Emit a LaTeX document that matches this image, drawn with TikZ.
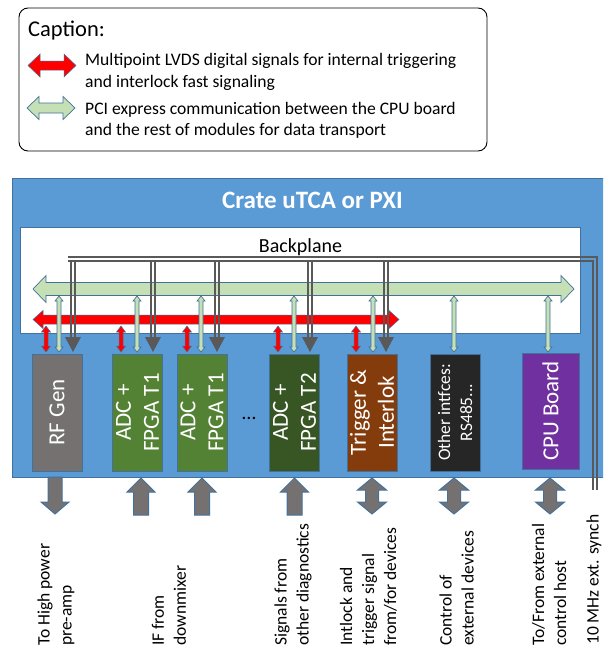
\documentclass[tikz,border=0pt]{standalone}
\usepackage{fontspec}
\setmainfont{Carlito}
\usepackage{xcolor}

\definecolor{crateblue}{HTML}{5B9BD5}
\definecolor{edgeblue}{HTML}{41719C}
\definecolor{pcigreen}{HTML}{C5E0B4}
\definecolor{rfgray}{HTML}{767171}
\definecolor{adcgreen}{HTML}{548235}
\definecolor{adcdark}{HTML}{375623}
\definecolor{trigbrown}{HTML}{843C0C}
\definecolor{ifcblack}{HTML}{262626}
\definecolor{cpupurple}{HTML}{7030A0}
\definecolor{cablegray}{HTML}{595959}

% fat arrows: style, position, tips, shaft half width, head half width, head length
\newcommand{\busH}[7]{%
  \draw[#1] (#2,#4) -- ({#2+#7},{#4-#6}) -- ({#2+#7},{#4-#5}) -- ({#3-#7},{#4-#5})
    -- ({#3-#7},{#4-#6}) -- (#3,#4) -- ({#3-#7},{#4+#6}) -- ({#3-#7},{#4+#5})
    -- ({#2+#7},{#4+#5}) -- ({#2+#7},{#4+#6}) -- cycle;}
\newcommand{\busV}[7]{%
  \draw[#1] (#2,#3) -- ({#2+#6},{#3+#7}) -- ({#2+#5},{#3+#7}) -- ({#2+#5},{#4-#7})
    -- ({#2+#6},{#4-#7}) -- (#2,#4) -- ({#2-#6},{#4-#7}) -- ({#2-#5},{#4-#7})
    -- ({#2-#5},{#3+#7}) -- ({#2-#6},{#3+#7}) -- cycle;}
\newcommand{\arrUp}[7]{%
  \draw[#1] (#2,#3) -- ({#2+#6},{#3+#7}) -- ({#2+#5},{#3+#7}) -- ({#2+#5},#4)
    -- ({#2-#5},#4) -- ({#2-#5},{#3+#7}) -- ({#2-#6},{#3+#7}) -- cycle;}
\newcommand{\arrDown}[7]{%
  \draw[#1] ({#2-#5},#3) -- ({#2+#5},#3) -- ({#2+#5},{#4-#7}) -- ({#2+#6},{#4-#7})
    -- (#2,#4) -- ({#2-#6},{#4-#7}) -- ({#2-#5},{#4-#7}) -- cycle;}

\begin{document}
\begin{tikzpicture}[x=1pt,y=-1pt,
  module/.style={draw=edgeblue,line width=0.8pt,rotate=90,minimum width=117,minimum height=50,
    inner sep=0pt,align=center,text=white,font=\fontsize{23}{28}\selectfont},
  outlabel/.style={rotate=90,anchor=west,align=left,inner sep=0pt,font=\fontsize{17.5}{22}\selectfont},
  cable/.style={draw=cablegray,line width=1.1pt},
  pci/.style={fill=pcigreen,draw=edgeblue,line width=0.7pt},
  lvds/.style={fill=red,draw=edgeblue,line width=0.5pt},
  io/.style={fill=rfgray,draw=edgeblue,line width=1pt},
  txt/.style={inner sep=0pt,anchor=base west,align=left,font=\fontsize{17.6}{21.5}\selectfont}
  ]
\clip (0,0) rectangle (603,648);
% caption
\draw[line width=0.9pt,rounded corners=9] (19,8) rectangle (487,151);
\node[inner sep=0pt,anchor=base west,font=\fontsize{22.5}{27}\selectfont] (cap) at (28,36) {Caption:};
\busH{lvds}{28}{76}{65.5}{4.5}{11.5}{12}
\node[txt] (capLvds) at (85,87.2) {Multipoint LVDS digital signals for internal triggering\\and interlock fast signaling}; % base = last line
\busH{pci}{27}{75}{108}{5}{11.5}{12}
\node[txt] (capPci) at (85,135.5) {PCI express communication between the CPU board\\and the rest of modules for data transport};
% crate and backplane
\draw[fill=crateblue,draw=edgeblue,line width=0.8pt] (12,178) rectangle (620,477);
\node[anchor=base,text=white,inner sep=0pt,font=\bfseries\fontsize{25}{30}\selectfont] (crate) at (312.5,208.3) {Crate uTCA or PXI};
\draw[fill=white,draw=edgeblue,line width=0.6pt] (20,227) rectangle (580,333);
\node[anchor=base,inner sep=0pt,font=\fontsize{20}{24}\selectfont] (bp) at (300.5,252) {Backplane};
% synch cable
\draw[cable] (68,257) -- (597,257) -- (597,490);
\draw[cable] (68,261) -- (593,261) -- (593,490);
% buses
\busH{pci}{33}{574}{289}{6.5}{13.5}{13}      % PCI express
\busH{lvds}{33}{399}{319.5}{4.5}{9}{10}     % multipoint LVDS
\foreach \x in {73,153,217,310,386}{
  \draw[cable] ({\x-2},261) -- ({\x-2},338);
  \draw[cable] ({\x+2},261) -- ({\x+2},338);
  \fill[cablegray] ({\x-8},337) -- ({\x+8},337) -- (\x,352) -- cycle;
}
\foreach \x in {46,121,187,278,356}{\busV{lvds}{\x}{326}{352}{2}{4.5}{6}}
\foreach \x in {59,137,201,294,373,454,548}{\busV{pci}{\x}{296}{352}{2}{4}{5}}
% modules
\node[module,fill=rfgray] (rf) at (57,412.5) {RF Gen};
\node[module,fill=adcgreen] (adc1) at (137.5,412.5) {ADC +\\FPGA T1};
\node[module,fill=adcgreen] (adc2) at (202,412.5) {ADC +\\FPGA T1};
\node[font=\fontsize{20}{24}\selectfont] (dots) at (249,418) {\ldots};
\node[module,fill=adcdark] (adc3) at (294.5,412.5) {ADC +\\FPGA T2};
\node[module,fill=trigbrown] (trig) at (372,412.5) {Trigger \&\\Interlok};
\node[module,fill=ifcblack,font=\fontsize{17.5}{22}\selectfont] (ifc) at (455,412.5) {Other intfces:\\RS485...};
\node[module,fill=cpupurple,minimum width=116,minimum height=57] (cpu) at (550.5,411) {CPU Board};
% outside connections
\arrDown{io}{55}{477}{514}{7}{14}{12}
\foreach \x in {141,202,294.5}{\arrUp{io}{\x}{478}{515}{7.5}{14}{14}}
\foreach \x in {372,454,550}{\busV{io}{\x}{478}{514}{6.5}{14.5}{12}}
\node[outlabel] (lbRf) at (56,646) {To High power\\pre-amp};
\node[outlabel] (lbIf) at (169,646) {IF from\\downmixer};
\node[outlabel] (lbDiag) at (293,646) {Signals from\\other diagnostics};
\node[outlabel] (lbTrig) at (368.5,646) {Intlock and\\trigger signal\\from/for devices};
\node[outlabel] (lbCtrl) at (456.5,646) {Control of\\external devices};
\node[outlabel] (lbHost) at (549,646) {To/From external\\control host};
\node[outlabel] (lbSync) at (594,645) {10 MHz ext. synch};
\end{tikzpicture}
\end{document}
